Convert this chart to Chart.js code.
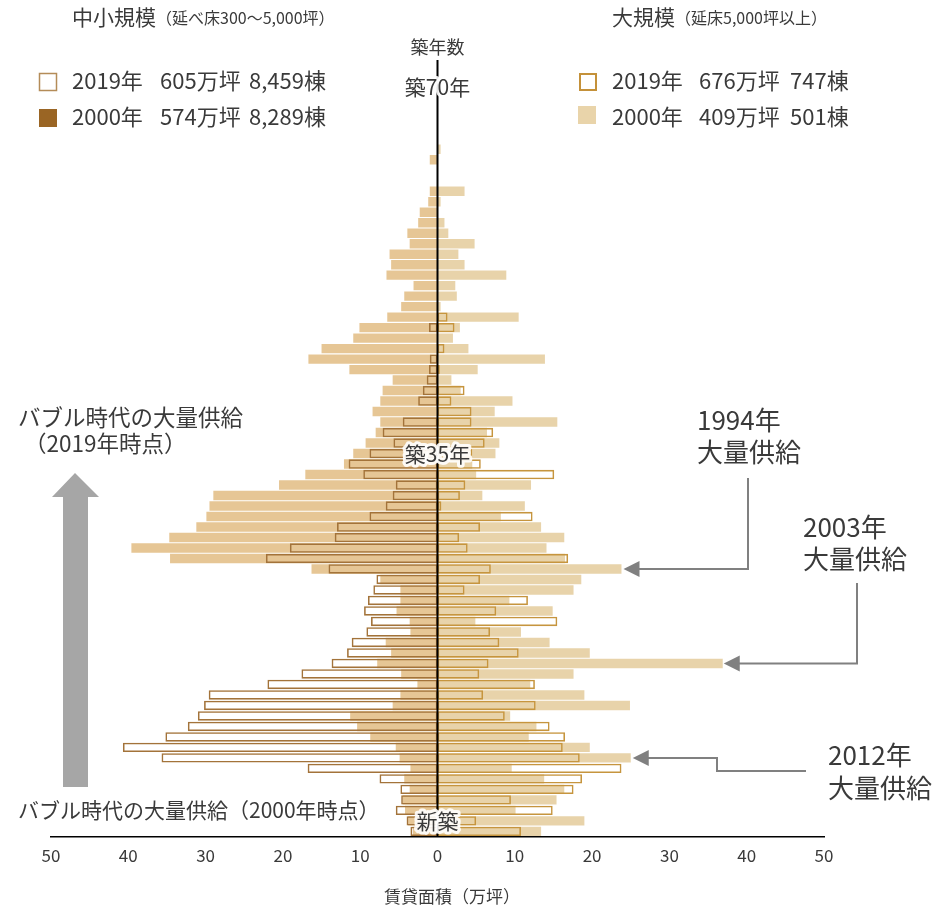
<!DOCTYPE html>
<html>
<head>
<meta charset="utf-8">
<script src="https://cdn.jsdelivr.net/npm/chart.js@4.4.1/dist/chart.umd.min.js"></script>
<style>
  html, body { margin: 0; padding: 0; background: #fff; }
  #wrap { position: relative; width: 949px; height: 908px; }
</style>
</head>
<body>
<div id="wrap"><canvas id="myChart"></canvas></div>
<script>
// 築年数 0..70 (0 = 新築)
const ages = Array.from({ length: 71 }, (_, i) => String(i));

// 中小規模 (万坪) - drawn to the left
const small2019 = [3.5, 4.0, 5.4, 4.7, 4.8, 7.5, 16.8, 35.7, 40.7, 35.2,
  32.3, 31.0, 30.2, 29.6, 22.0, 17.6, 13.7, 11.7, 11.1, 9.2,
  8.6, 9.5, 9.0, 8.3, 7.9, 14.1, 22.2, 19.1, 13.3, 13.0,
  8.8, 6.7, 5.8, 5.4, 9.6, 11.5, 8.8, 5.7, 7.1, 4.5,
  0, 2.5, 1.9, 1.4, 1.1, 1.0, 0, 0, 1.1, 0,
  0, 0, 0, 0, 0, 0, 0, 0, 0, 0,
  0, 0, 0, 0, 0, 0, 0, 0, 0, 0, 0];
const small2000 = [3.2, 3.8, 4.2, 4.5, 3.6, 4.3, 3.5, 4.9, 5.4, 8.7,
  10.4, 11.3, 5.8, 4.8, 2.6, 4.7, 7.8, 6.0, 6.7, 3.5,
  3.6, 5.3, 4.8, 4.8, 7.4, 16.3, 34.6, 39.6, 34.7, 31.2,
  29.9, 29.5, 29.0, 20.5, 17.1, 12.1, 10.9, 9.3, 8.0, 7.4,
  8.4, 7.4, 7.1, 5.8, 11.4, 16.7, 15.0, 10.9, 10.1, 6.5,
  4.7, 4.3, 3.1, 6.6, 6.0, 6.2, 3.6, 3.9, 2.5, 2.3,
  1.2, 1.0, 0, 0, 1.0, 0, 0, 0, 0, 0, 0];

// 大規模 (万坪) - drawn to the right
const large2019 = [10.8, 5.0, 14.9, 9.5, 17.6, 18.7, 23.8, 18.4, 16.2, 16.5,
  14.5, 8.7, 12.7, 5.9, 12.6, 5.4, 6.6, 10.5, 8.0, 6.8,
  15.5, 7.6, 11.7, 3.5, 5.5, 6.9, 16.9, 3.9, 2.8, 5.5,
  12.3, 0.5, 2.9, 3.6, 15.1, 5.6, 4.5, 6.1, 7.2, 4.4,
  4.4, 1.8, 3.5, 0, 0.3, 0, 0.9, 0, 2.2, 1.3,
  0, 0, 0, 0, 0, 0, 0, 0, 0, 0,
  0, 0, 0, 0, 0, 0, 0, 0, 0, 0, 0];
const large2000 = [13.4, 19.0, 10.1, 15.4, 16.4, 13.8, 9.6, 25.0, 19.7, 11.8,
  12.8, 9.4, 24.9, 19.0, 12.0, 17.6, 36.9, 19.7, 14.5, 10.8,
  4.9, 14.9, 9.3, 17.6, 18.6, 23.8, 16.5, 14.1, 16.4, 13.4,
  8.2, 11.3, 5.8, 12.1, 5.0, 4.5, 7.5, 8.0, 6.4, 15.5,
  7.4, 9.7, 3.0, 1.8, 5.2, 13.9, 4.0, 2.0, 2.9, 10.5,
  0.4, 2.5, 2.3, 8.9, 3.5, 2.7, 4.8, 1.4, 0.9, 0,
  0.4, 3.5, 0, 0, 0, 0.4, 0, 0, 0, 0, 0];

const xTicks = [-50, -40, -30, -20, -10, 0, 10, 20, 30, 40, 50];

const left = arr => arr.map(v => v ? -v : null);
const right = arr => arr.map(v => v ? v : null);

const FONT = '"Noto Sans CJK JP", "Noto Sans", sans-serif';
const TXT = '#3a3a3a';

function bar(label, data, opts) {
  return Object.assign({
    label: label,
    data: data,
    grouped: false,
    barPercentage: 0.9,
    categoryPercentage: 1,
    borderSkipped: false,
    borderWidth: 0
  }, opts);
}

function arrowHead(ctx, x, y) {
  ctx.beginPath();
  ctx.moveTo(x, y);
  ctx.lineTo(x + 16, y - 8);
  ctx.lineTo(x + 16, y + 8);
  ctx.closePath();
  ctx.fill();
}

const overlay = {
  id: 'overlay',
  afterDatasetsDraw(chart) {
    const ctx = chart.ctx;
    const xs = chart.scales.x, ys = chart.scales.y;
    const x0 = xs.getPixelForValue(0);
    ctx.save();
    // zero line
    ctx.strokeStyle = '#000';
    ctx.lineWidth = 2;
    ctx.beginPath();
    ctx.moveTo(x0, 60);
    ctx.lineTo(x0, chart.chartArea.bottom);
    ctx.stroke();
    // 築年数 labels
    ctx.font = '21px ' + FONT;
    ctx.textAlign = 'center';
    ctx.textBaseline = 'middle';
    ctx.lineJoin = 'round';
    [[0, '新築'], [35, '築35年'], [70, '築70年']].forEach(([i, t]) => {
      const y = ys.getPixelForValue(i) - 10;
      ctx.strokeStyle = 'rgba(255,255,255,0.9)';
      ctx.lineWidth = 6;
      ctx.strokeText(t, x0, y);
      ctx.fillStyle = TXT;
      ctx.fillText(t, x0, y);
    });
    ctx.font = '18px ' + FONT;
    ctx.fillText('築年数', x0, 47);
    ctx.restore();
  },
  afterDraw(chart) {
    const ctx = chart.ctx;
    const xs = chart.scales.x, ys = chart.scales.y;
    ctx.save();
    ctx.textBaseline = 'middle';
    ctx.textAlign = 'left';
    ctx.fillStyle = TXT;

    // headings
    ctx.font = '21px ' + FONT;
    ctx.fillText('中小規模', 72, 17);
    let w = ctx.measureText('中小規模').width;
    ctx.font = '16px ' + FONT;
    ctx.fillText('（延べ床300～5,000坪）', 72 + w, 18);
    ctx.font = '21px ' + FONT;
    ctx.fillText('大規模', 612, 17);
    w = ctx.measureText('大規模').width;
    ctx.font = '16px ' + FONT;
    ctx.fillText('（延床5,000坪以上）', 612 + w, 18);

    // legend
    ctx.font = '22px ' + FONT;
    ctx.fillText('2019年', 72, 81);
    ctx.fillText('605万坪', 160, 81);
    ctx.fillText('8,459棟', 249, 81);
    ctx.fillText('2000年', 72, 117);
    ctx.fillText('574万坪', 160, 117);
    ctx.fillText('8,289棟', 249, 117);
    ctx.fillText('2019年', 612, 81);
    ctx.fillText('676万坪', 699, 81);
    ctx.fillText('747棟', 790, 81);
    ctx.fillText('2000年', 612, 117);
    ctx.fillText('409万坪', 699, 117);
    ctx.fillText('501棟', 790, 117);
    ctx.lineWidth = 1.5;
    ctx.strokeStyle = '#b48c58';
    ctx.fillStyle = '#fff';
    ctx.fillRect(39.5, 73.5, 17, 17);
    ctx.strokeRect(39.5, 73.5, 17, 17);
    ctx.fillStyle = '#9a6524';
    ctx.fillRect(39, 109, 18, 18);
    ctx.lineWidth = 2;
    ctx.strokeStyle = '#c4913a';
    ctx.strokeRect(580, 74, 16, 16);
    ctx.fillStyle = '#e9d4aa';
    ctx.fillRect(578, 106, 18, 18);

    // bubble annotations
    ctx.fillStyle = TXT;
    ctx.font = '22.5px ' + FONT;
    ctx.fillText('バブル時代の大量供給', 18, 417);
    ctx.fillText('（2019年時点）', 24, 443);
    ctx.font = '21px ' + FONT;
    ctx.fillText('バブル時代の大量供給（2000年時点）', 18, 810);

    // big grey arrow
    ctx.fillStyle = '#a6a6a6';
    ctx.beginPath();
    ctx.moveTo(75, 473);
    ctx.lineTo(99, 497);
    ctx.lineTo(88, 497);
    ctx.lineTo(88, 787);
    ctx.lineTo(63, 787);
    ctx.lineTo(63, 497);
    ctx.lineTo(52, 497);
    ctx.closePath();
    ctx.fill();

    // peak labels
    ctx.fillStyle = TXT;
    ctx.font = '26px ' + FONT;
    ctx.fillText('1994年', 697, 420);
    ctx.fillText('大量供給', 697, 452);
    ctx.fillText('2003年', 803, 527);
    ctx.fillText('大量供給', 803, 559);
    ctx.fillText('2012年', 828, 755);
    ctx.fillText('大量供給', 828, 788);

    // pointer arrows
    ctx.strokeStyle = '#808080';
    ctx.fillStyle = '#808080';
    ctx.lineWidth = 2;
    let ty = ys.getPixelForValue(25), tx = xs.getPixelForValue(large2000[25]) + 2;
    ctx.beginPath();
    ctx.moveTo(tx + 14, ty); ctx.lineTo(748, ty); ctx.lineTo(748, 478);
    ctx.stroke();
    arrowHead(ctx, tx, ty);

    ty = ys.getPixelForValue(16); tx = xs.getPixelForValue(large2000[16]) + 1;
    ctx.beginPath();
    ctx.moveTo(tx + 14, ty); ctx.lineTo(857, ty); ctx.lineTo(857, 583);
    ctx.stroke();
    arrowHead(ctx, tx, ty);

    ty = ys.getPixelForValue(7); tx = xs.getPixelForValue(large2000[7]) + 2;
    ctx.beginPath();
    ctx.moveTo(tx + 14, ty); ctx.lineTo(717, ty); ctx.lineTo(717, 771); ctx.lineTo(806, 771);
    ctx.stroke();
    arrowHead(ctx, tx, ty);

    // x axis title
    ctx.fillStyle = TXT;
    ctx.font = '17px ' + FONT;
    ctx.textAlign = 'center';
    ctx.fillText('賃貸面積（万坪）', 452, 897);

    ctx.restore();
  }
};

const ctx = document.getElementById('myChart');

new Chart(ctx, {
  type: 'bar',
  data: {
    labels: ages,
    datasets: [
      bar('中小規模 2019 (bg)', left(small2019), { backgroundColor: '#ffffff', order: 3 }),
      bar('中小規模 2000年', left(small2000), { backgroundColor: 'rgba(226,190,134,0.88)', order: 2 }),
      bar('中小規模 2019年', left(small2019), { backgroundColor: 'rgba(0,0,0,0)', borderColor: '#a3733a', borderWidth: 1.6, order: 1 }),
      bar('大規模 2019 (bg)', right(large2019), { backgroundColor: '#ffffff', order: 3 }),
      bar('大規模 2000年', right(large2000), { backgroundColor: 'rgba(229,205,158,0.88)', order: 2 }),
      bar('大規模 2019年', right(large2019), { backgroundColor: 'rgba(0,0,0,0)', borderColor: '#c6953e', borderWidth: 1.6, order: 1 })
    ]
  },
  options: {
    indexAxis: 'y',
    responsive: true,
    maintainAspectRatio: false,
    animation: false,
    layout: { padding: { top: 91.5, left: 51, right: 125, bottom: 33 } },
    plugins: {
      legend: { display: false },
      tooltip: { enabled: false }
    },
    scales: {
      y: {
        type: 'category',
        reverse: true,
        display: false,
        offset: true
      },
      x: {
        type: 'linear',
        min: -50,
        max: 50,
        afterBuildTicks: axis => { axis.ticks = xTicks.map(v => ({ value: v })); },
        grid: { display: false, drawTicks: false },
        border: { display: true, color: '#000', width: 1.5 },
        ticks: {
          padding: 9,
          color: TXT,
          font: { size: 17, family: FONT },
          callback: v => String(Math.abs(v))
        },
        title: { display: false }
      }
    }
  },
  plugins: [overlay]
});
</script>
</body>
</html>
